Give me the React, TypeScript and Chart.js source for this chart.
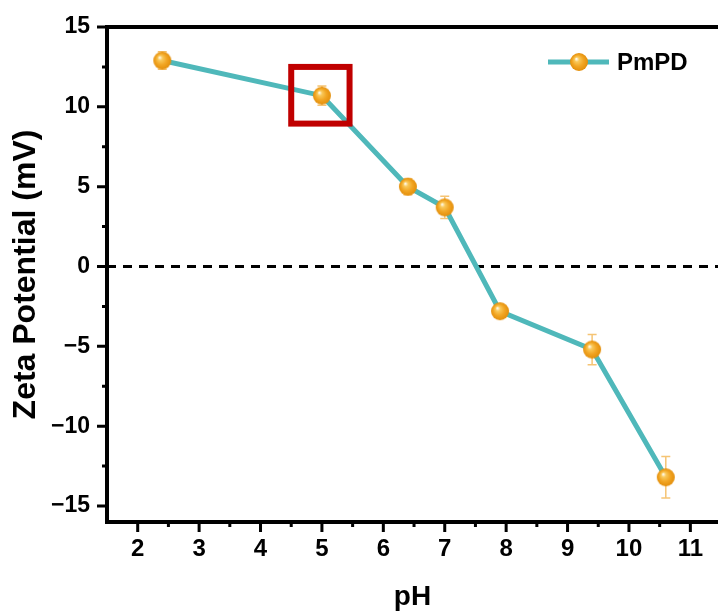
import React, { useEffect, useRef } from "react";
import { Chart, registerables } from "chart.js";

Chart.register(...registerables);

const phValues = [2.4, 5.0, 6.4, 7.0, 7.9, 9.4, 10.6];
const zeta = [12.9, 10.7, 5.0, 3.7, -2.8, -5.2, -13.2];
const zetaErr = [0.55, 0.6, 0.5, 0.7, 0.2, 0.95, 1.3];

const xTicks = [2, 3, 4, 5, 6, 7, 8, 9, 10, 11];
const xMinor = [1.5, 2.5, 3.5, 4.5, 5.5, 6.5, 7.5, 8.5, 9.5, 10.5];
const yTicks = [-15, -10, -5, 0, 5, 10, 15];
const yMinor = [-12.5, -7.5, -2.5, 2.5, 7.5, 12.5];

const highlightX = [4.5, 5.45];
const highlightY = [8.95, 12.5];

const seriesLabel = "PmPD";
const xTitle = "pH";
const yTitle = "Zeta Potential (mV)";

const FONT = "'Liberation Sans', Arial, sans-serif";
const LINE_COLOR = "#4FB8BA";

function makeBall(r: number): HTMLCanvasElement {
  const c = document.createElement("canvas");
  const s = Math.ceil(r * 2 + 2);
  c.width = s;
  c.height = s;
  const ctx = c.getContext("2d")!;
  const cx = s / 2;
  const cy = s / 2;
  const g = ctx.createRadialGradient(cx - r * 0.3, cy - r * 0.35, r * 0.05, cx, cy, r);
  g.addColorStop(0, "#FFF8E8");
  g.addColorStop(0.22, "#F9C95A");
  g.addColorStop(0.6, "#F2A624");
  g.addColorStop(1, "#E38E0A");
  ctx.fillStyle = g;
  ctx.beginPath();
  ctx.arc(cx, cy, r, 0, Math.PI * 2);
  ctx.fill();
  return c;
}

export default function App() {
  const ref = useRef<HTMLCanvasElement | null>(null);

  useEffect(() => {
    if (!ref.current) return;
    const ball = makeBall(9);

    const decor = {
      id: "decor",
      beforeDatasetsDraw(chart: any) {
        const { ctx, chartArea, scales } = chart;
        const x = scales.x;
        const y = scales.y;
        ctx.save();
        ctx.strokeStyle = "#000";
        ctx.lineWidth = 3;
        ctx.setLineDash([9, 7]);
        const y0 = y.getPixelForValue(0);
        ctx.beginPath();
        ctx.moveTo(chartArea.left, y0);
        ctx.lineTo(chartArea.right, y0);
        ctx.stroke();
        ctx.setLineDash([]);
        ctx.strokeStyle = "rgba(242,176,70,0.75)";
        ctx.lineWidth = 1.5;
        phValues.forEach((pv, i) => {
          const px = x.getPixelForValue(pv);
          const top = y.getPixelForValue(zeta[i] + zetaErr[i]);
          const bot = y.getPixelForValue(zeta[i] - zetaErr[i]);
          ctx.beginPath();
          ctx.moveTo(px, top);
          ctx.lineTo(px, bot);
          ctx.moveTo(px - 4.5, top);
          ctx.lineTo(px + 4.5, top);
          ctx.moveTo(px - 4.5, bot);
          ctx.lineTo(px + 4.5, bot);
          ctx.stroke();
        });
        ctx.restore();
      },
      afterDraw(chart: any) {
        const { ctx, chartArea, scales } = chart;
        const x = scales.x;
        const y = scales.y;
        ctx.save();
        ctx.strokeStyle = "#000";
        ctx.lineWidth = 4;
        ctx.beginPath();
        ctx.moveTo(chartArea.right, chartArea.top);
        ctx.lineTo(chartArea.left, chartArea.top);
        ctx.lineTo(chartArea.left, chartArea.bottom);
        ctx.lineTo(chartArea.right, chartArea.bottom);
        ctx.stroke();
        ctx.lineWidth = 3;
        ctx.beginPath();
        yTicks.forEach((v) => {
          const py = y.getPixelForValue(v);
          ctx.moveTo(chartArea.left - 10, py);
          ctx.lineTo(chartArea.left, py);
        });
        yMinor.forEach((v) => {
          const py = y.getPixelForValue(v);
          ctx.moveTo(chartArea.left - 5, py);
          ctx.lineTo(chartArea.left, py);
        });
        xTicks.forEach((v) => {
          const px = x.getPixelForValue(v);
          ctx.moveTo(px, chartArea.bottom);
          ctx.lineTo(px, chartArea.bottom + 10);
        });
        xMinor.forEach((v) => {
          const px = x.getPixelForValue(v);
          if (px <= chartArea.left + 2) return;
          ctx.moveTo(px, chartArea.bottom);
          ctx.lineTo(px, chartArea.bottom + 5);
        });
        ctx.stroke();
        ctx.strokeStyle = "#C00000";
        ctx.lineWidth = 6;
        const bx1 = x.getPixelForValue(highlightX[0]);
        const bx2 = x.getPixelForValue(highlightX[1]);
        const by1 = y.getPixelForValue(highlightY[1]);
        const by2 = y.getPixelForValue(highlightY[0]);
        ctx.strokeRect(bx1, by1, bx2 - bx1, by2 - by1);
        const ly = 62;
        ctx.strokeStyle = LINE_COLOR;
        ctx.lineWidth = 5;
        ctx.beginPath();
        ctx.moveTo(548, ly);
        ctx.lineTo(609, ly);
        ctx.stroke();
        ctx.drawImage(ball, 579 - ball.width / 2, ly - ball.height / 2);
        ctx.fillStyle = "#000";
        ctx.font = `bold 24px ${FONT}`;
        ctx.textBaseline = "middle";
        ctx.textAlign = "left";
        ctx.fillText(seriesLabel, 617, ly + 1);
        ctx.restore();
      },
    };

    const fmt = (v: any) => {
      const n = Number(v);
      return n < 0 ? "\u2212" + Math.abs(n) : String(n);
    };

    const chart = new Chart(ref.current, {
      type: "line",
      data: {
        datasets: [
          {
            label: seriesLabel,
            data: phValues.map((p, i) => ({ x: p, y: zeta[i] })),
            borderColor: LINE_COLOR,
            borderWidth: 5,
            pointStyle: ball as any,
            pointRadius: 9,
            tension: 0,
          },
        ],
      },
      options: {
        responsive: false,
        animation: false,
        layout: { autoPadding: false, padding: { top: 27, right: 0, left: 0, bottom: 0 } },
        plugins: { legend: { display: false }, tooltip: { enabled: false } },
        scales: {
          x: {
            type: "linear",
            min: 1.5,
            max: 11.45,
            afterFit: (s: any) => {
              s.height = 94;
              s.paddingLeft = 0;
              s.paddingRight = 0;
            },
            afterBuildTicks: (s: any) => {
              s.ticks = xTicks.map((v) => ({ value: v }));
            },
            grid: { display: false, drawTicks: false },
            border: { display: false },
            ticks: {
              padding: 13,
              color: "#000",
              font: { family: FONT, size: 24, weight: "bold" },
              callback: fmt,
              maxRotation: 0,
              autoSkip: false,
            },
            title: {
              display: true,
              text: xTitle,
              color: "#000",
              font: { family: FONT, size: 28, weight: "bold" },
              padding: { top: 0, bottom: 2 },
            },
          },
          y: {
            type: "linear",
            min: -16,
            max: 15,
            afterFit: (s: any) => {
              s.width = 107;
              s.paddingTop = 0;
              s.paddingBottom = 0;
            },
            afterBuildTicks: (s: any) => {
              s.ticks = yTicks.map((v) => ({ value: v }));
            },
            grid: { display: false, drawTicks: false },
            border: { display: false },
            ticks: {
              padding: 17,
              color: "#000",
              font: { family: FONT, size: 23, weight: "bold" },
              callback: fmt,
              autoSkip: false,
            },
            title: {
              display: true,
              text: yTitle,
              color: "#000",
              font: { family: FONT, size: 32, weight: "bold" },
              padding: { top: 7, bottom: 0 },
            },
          },
        },
      },
      plugins: [decor],
    });
    return () => chart.destroy();
  }, []);

  return (
    <div style={{ position: "absolute", left: 0, top: 0, width: 718, height: 616, background: "#fff" }}>
      <canvas ref={ref} width={718} height={616} style={{ display: "block" }} />
    </div>
  );
}
